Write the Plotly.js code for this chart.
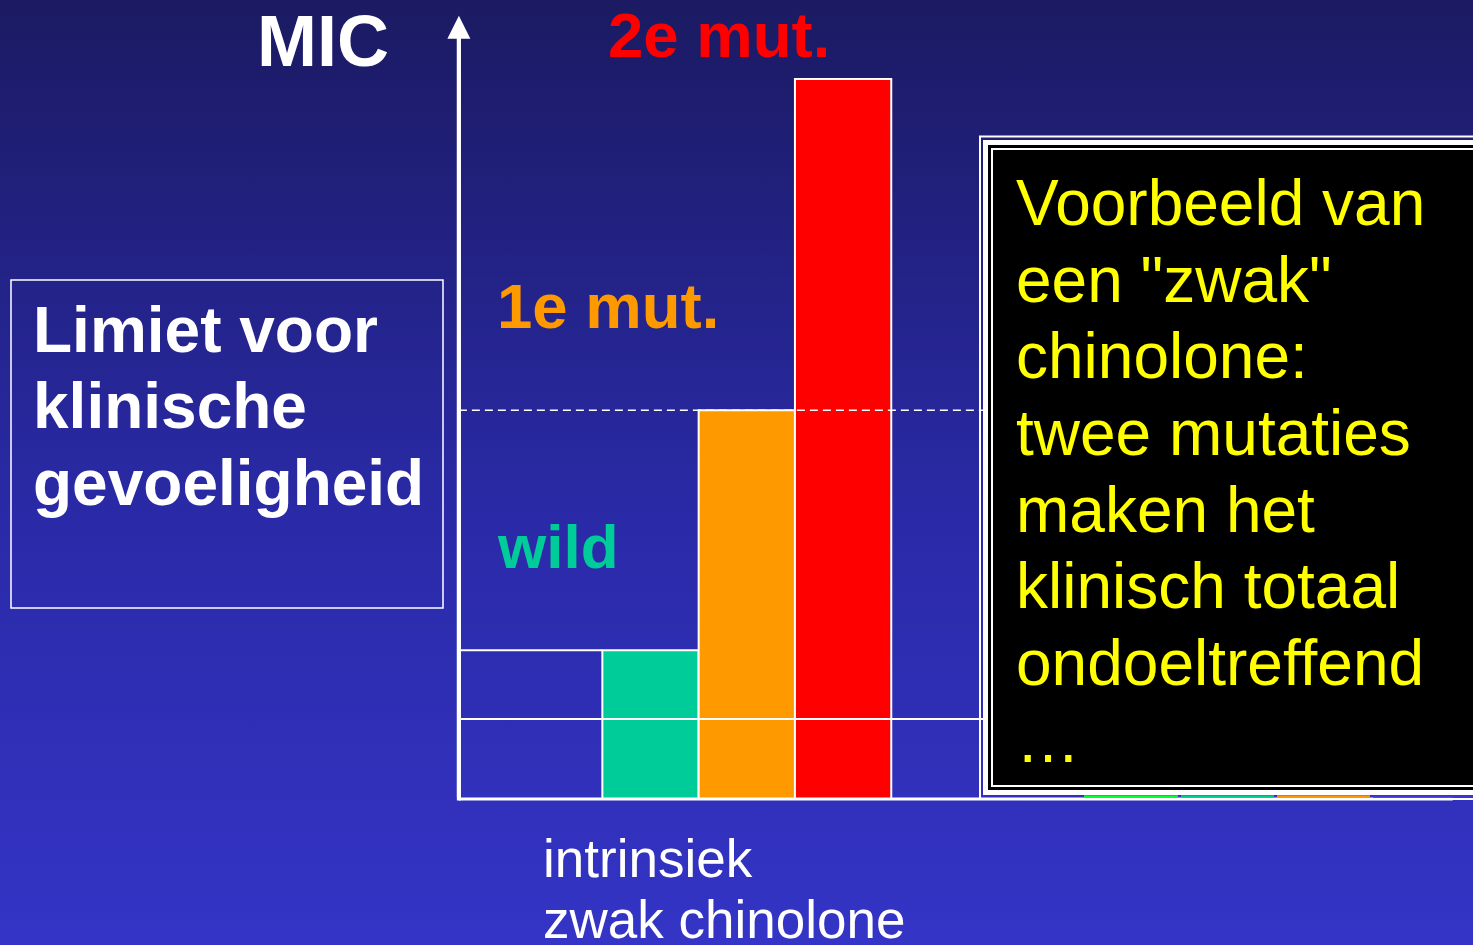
<!DOCTYPE html>
<html>
<head>
<meta charset="utf-8">
<script src="https://cdn.plot.ly/plotly-3.0.1.min.js"></script>
<style>
  html, body { margin: 0; padding: 0; }
  body { width: 1473px; height: 945px; overflow: hidden;
         background: linear-gradient(to bottom, #1b1a62 0%, #2a2aa8 55%, #3434c6 100%); }
  #chart { width: 1473px; height: 945px; }
</style>
</head>
<body>
<div id="chart"></div>
<script>
// ---- data ----
const categories = ['wild', '1e mut.', '2e mut.'];
const micValues = [1.86, 4.86, 9.0];
const barColors = ['#00cc99', '#ff9900', '#ff0000'];
const intrinsicLevel = 1.0;        // intrinsiek zwak chinolone
const clinicalLimit = 4.86;        // limiet voor klinische gevoeligheid
const labelColors = ['#00cc99', '#ff9900', '#ff0000'];
const boxLines = ['Voorbeeld van', 'een "zwak"', 'chinolone:', 'twee mutaties',
                  'maken het', 'klinisch totaal', 'ondoeltreffend', '\u2026'];
const limitLines = ['Limiet voor', 'klinische', 'gevoeligheid'];
const intrinsicLines = ['intrinsiek', 'zwak chinolone'];

// ---- layout helpers (pixel -> paper) ----
const W = 1473, H = 945;
const P = x => x / W;
const Q = y => 1 - y / H;
const FONT = '"Liberation Sans", Arial, Helvetica, sans-serif';
const AXIS_X = -1.99;   // category-index position of the MIC axis
const RIGHT_END = 3.47; // where the level lines stop (box edge)
const AXIS_TOP = 9.79;

const trace = {
  type: 'bar',
  x: categories,
  y: micValues,
  width: 1,
  marker: { color: barColors, line: { color: '#ffffff', width: 2 } },
  hoverinfo: 'skip',
  showlegend: false
};

const shapes = [];
// MIC axis shaft
shapes.push({ type: 'line', xref: 'x', yref: 'y', x0: AXIS_X, x1: AXIS_X, y0: -0.02, y1: AXIS_TOP - 0.2,
  line: { color: '#ffffff', width: 4 }, layer: 'above' });
// level lines
shapes.push({ type: 'line', xref: 'x', yref: 'y', x0: AXIS_X, x1: RIGHT_END, y0: intrinsicLevel, y1: intrinsicLevel,
  line: { color: '#ffffff', width: 2 }, layer: 'above' });
shapes.push({ type: 'line', xref: 'x', yref: 'y', x0: AXIS_X, x1: -0.5, y0: micValues[0], y1: micValues[0],
  line: { color: '#ffffff', width: 2 }, layer: 'above' });
shapes.push({ type: 'line', xref: 'x', yref: 'y', x0: AXIS_X, x1: RIGHT_END, y0: clinicalLimit, y1: clinicalLimit,
  line: { color: '#ffffff', width: 1.5, dash: '8px,5px' }, layer: 'above' });
// baseline
shapes.push({ type: 'line', xref: 'x', yref: 'y', x0: AXIS_X, x1: 8.33, y0: 0, y1: 0,
  line: { color: '#ffffff', width: 3 }, layer: 'above' });
// left text box
shapes.push({ type: 'rect', xref: 'paper', yref: 'paper', x0: P(11), x1: P(443), y0: Q(280), y1: Q(608),
  line: { color: '#ffffff', width: 1.5 }, layer: 'above' });
// right black box (double frame)
shapes.push({ type: 'rect', xref: 'paper', yref: 'paper', x0: P(980), x1: P(1480), y0: Q(136.5), y1: Q(799),
  line: { color: '#ffffff', width: 2 }, layer: 'above' });
shapes.push({ type: 'rect', xref: 'paper', yref: 'paper', x0: P(983), x1: P(1480), y0: Q(140), y1: Q(795),
  fillcolor: '#ffffff', line: { width: 0 }, layer: 'above' });
shapes.push({ type: 'rect', xref: 'paper', yref: 'paper', x0: P(988), x1: P(1480), y0: Q(145), y1: Q(790),
  fillcolor: '#000000', line: { width: 0 }, layer: 'above' });
shapes.push({ type: 'rect', xref: 'paper', yref: 'paper', x0: P(992), x1: P(1480), y0: Q(149), y1: Q(786),
  fillcolor: 'rgba(0,0,0,0)', line: { color: '#ffffff', width: 2 }, layer: 'above' });
// legend remnants under the box
const segs = [[1084, 1178, '#00ff33'], [1181, 1274, '#00cc99'], [1277, 1370, '#ff9900'], [1373, 1473, '#3a3ad0']];
segs.forEach(s => shapes.push({ type: 'line', xref: 'paper', yref: 'paper', x0: P(s[0]), x1: P(s[1]), y0: Q(796.5), y1: Q(796.5),
  line: { color: s[2], width: 2.5 }, layer: 'above' }));

const annotations = [];
// MIC axis arrow head
annotations.push({ xref: 'x', yref: 'y', axref: 'x', ayref: 'y', x: AXIS_X, y: AXIS_TOP, ax: AXIS_X, ay: 0,
  text: '', showarrow: true, arrowhead: 2, arrowsize: 1.15, arrowwidth: 4, arrowcolor: '#ffffff', standoff: 0 });

function txt(text, xLeft, baseline, size, color, bold) {
  annotations.push({ xref: 'paper', yref: 'paper', x: P(xLeft - 2), y: Q(baseline - 0.3465 * size),
    xanchor: 'left', yanchor: 'middle', showarrow: false,
    text: bold ? '<b>' + text + '</b>' : text,
    font: { family: FONT, size: size, color: color } });
}
txt('MIC', 257, 66, 72, '#ffffff', true);
txt(categories[2], 608, 57, 63.5, labelColors[2], true);
txt(categories[1], 497, 328, 63.5, labelColors[1], true);
txt(categories[0], 497, 568, 62, labelColors[0], true);
limitLines.forEach((l, i) => txt(l, 33, 352 + i * 76.5, 64, '#ffffff', true));
boxLines.forEach((l, i) => txt(l, 1016, 225 + i * 76.7, 64, '#ffff00', false));
intrinsicLines.forEach((l, i) => txt(l, 543, 877 + i * 61, 53, '#ffffff', false));

const layout = {
  width: W, height: H,
  margin: { l: 0, r: 0, t: 0, b: 0, pad: 0 },
  paper_bgcolor: 'rgba(0,0,0,0)',
  plot_bgcolor: 'rgba(0,0,0,0)',
  bargap: 0,
  xaxis: { type: 'category', categoryorder: 'array', categoryarray: categories,
           range: [-6.755, 8.541], visible: false, fixedrange: true },
  yaxis: { range: [-1.825, 9.9875], visible: false, fixedrange: true },
  shapes: shapes,
  annotations: annotations,
  showlegend: false
};

Plotly.newPlot('chart', [trace], layout, { displayModeBar: false, staticPlot: true });
</script>
</body>
</html>
